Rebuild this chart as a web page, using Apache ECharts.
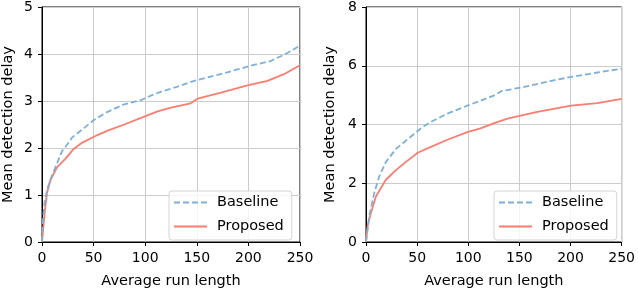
<!DOCTYPE html>
<html><head><meta charset="utf-8">
<script src="https://cdn.jsdelivr.net/npm/echarts@6/dist/echarts.min.js"></script>
<style>html,body{margin:0;padding:0;background:#fff}#c{width:638px;height:294px}</style>
</head><body><div id="c"></div>
<script>
const xTicks = [0, 50, 100, 150, 200, 250];
const seriesNames = ['Baseline', 'Proposed'];
const leftBaselineX = [0, 1, 2.5, 5, 8.7, 13, 19.4, 26, 29, 38.7, 50.6, 63.6, 79.7, 96, 106, 115.5, 125, 147.5, 179.5, 202, 221.5, 237.7, 250];
const leftBaselineY = [0, 0.5, 0.85, 1.12, 1.36, 1.59, 1.93, 2.12, 2.22, 2.39, 2.6, 2.77, 2.93, 3.02, 3.12, 3.2, 3.26, 3.43, 3.61, 3.75, 3.85, 4.02, 4.18];
const leftProposedX = [0, 2.6, 4.8, 8.1, 14.5, 22.6, 30.7, 38.7, 53.2, 63.6, 79.7, 96, 112, 125, 144, 150.7, 173.5, 199, 218.5, 234.5, 250];
const leftProposedY = [0, 0.62, 1.04, 1.31, 1.59, 1.77, 1.98, 2.11, 2.27, 2.37, 2.5, 2.64, 2.78, 2.86, 2.95, 3.05, 3.18, 3.33, 3.43, 3.57, 3.76];
const rightBaselineX = [0, 3.2, 8, 12.8, 19.4, 29, 38.7, 54.9, 63.5, 79.6, 99, 112, 124.8, 132.7, 152, 184.5, 200.6, 226.3, 250];
const rightBaselineY = [0, 0.88, 1.66, 2.22, 2.72, 3.16, 3.44, 3.9, 4.09, 4.37, 4.64, 4.81, 4.98, 5.14, 5.26, 5.51, 5.62, 5.77, 5.9];
const rightProposedX = [0, 1.6, 4.9, 9.7, 19.4, 29, 38.7, 50.6, 63.5, 79.6, 99, 112, 124.8, 138.4, 167.5, 200.6, 226.3, 250];
const rightProposedY = [0, 0.55, 1.0, 1.55, 2.12, 2.44, 2.72, 3.04, 3.24, 3.48, 3.74, 3.87, 4.04, 4.2, 4.43, 4.64, 4.73, 4.87];

const zip = (xs, ys) => xs.map((x, i) => [x, ys[i]]);
const FONT = 'DejaVu Sans';
const BLUE = '#7eb0d8';
const RED = '#fa7d70';

function xAxis(gi) {
  return {
    type: 'value', gridIndex: gi, min: xTicks[0], max: xTicks[xTicks.length - 1], interval: xTicks[1] - xTicks[0],
    name: 'Average run length', nameLocation: 'middle', nameGap: 32,
    nameTextStyle: { fontFamily: FONT, fontSize: 14.5, color: '#000' },
    axisLine: { show: true, onZero: false, lineStyle: { color: '#000', width: 1 } },
    axisTick: { show: true, length: 4, lineStyle: { color: '#000' } },
    axisLabel: { fontFamily: FONT, fontSize: 14, color: '#000', margin: 9 },
    splitLine: { show: true, lineStyle: { color: '#cccccc', width: 1 } }
  };
}
function yAxis(gi, max, interval, gap) {
  return {
    type: 'value', gridIndex: gi, min: 0, max: max, interval: interval,
    name: 'Mean detection delay', nameLocation: 'middle', nameGap: gap,
    nameTextStyle: { fontFamily: FONT, fontSize: 14.5, color: '#000' },
    axisLine: { show: true, lineStyle: { color: '#000', width: 1 } },
    axisTick: { show: true, length: 4, lineStyle: { color: '#000' } },
    axisLabel: { fontFamily: FONT, fontSize: 14, color: '#000', margin: 9 },
    splitLine: { show: true, lineStyle: { color: '#cccccc', width: 1 } }
  };
}
function legend(left) {
  return {
    orient: 'vertical', left: left, top: 191, data: seriesNames,
    itemWidth: 33, itemHeight: 14, itemGap: 9,
    padding: [4, 8, 6, 4],
    borderColor: '#d4d4d4', borderWidth: 1, borderRadius: 3,
    backgroundColor: 'rgba(255,255,255,0.8)',
    itemStyle: { opacity: 0 },
    textStyle: { fontFamily: FONT, fontSize: 14.5, color: '#000', padding: [0, 0, 0, 5] }
  };
}
function line(name, xi, data, color, dashed) {
  return {
    name: name, type: 'line', xAxisIndex: xi, yAxisIndex: xi, data: data,
    symbol: 'none', smooth: false, animation: false,
    lineStyle: { color: color, width: 1.8, type: dashed ? [6, 3] : 'solid' },
    itemStyle: { color: color }, z: dashed ? 3 : 2
  };
}

const chart = echarts.init(document.getElementById('c'), null, { renderer: 'canvas' });
chart.setOption({
  animation: false,
  backgroundColor: '#fff',
  grid: [
    { left: 41, top: 6, width: 259, height: 240.5, show: true, borderColor: '#000', borderWidth: 1, containLabel: false },
    { left: 366, top: 6, width: 258, height: 240.5, show: true, borderColor: '#000', borderWidth: 1, containLabel: false }
  ],
  xAxis: [xAxis(0), xAxis(1)],
  yAxis: [yAxis(0, 5, 1, 26), yAxis(1, 8, 2, 28)],
  legend: [legend(169), legend(494)],
  series: [
    line(seriesNames[0], 0, zip(leftBaselineX, leftBaselineY), BLUE, true),
    line(seriesNames[1], 0, zip(leftProposedX, leftProposedY), RED, false),
    line(seriesNames[0], 1, zip(rightBaselineX, rightBaselineY), BLUE, true),
    line(seriesNames[1], 1, zip(rightProposedX, rightProposedY), RED, false)
  ]
});
</script></body></html>
